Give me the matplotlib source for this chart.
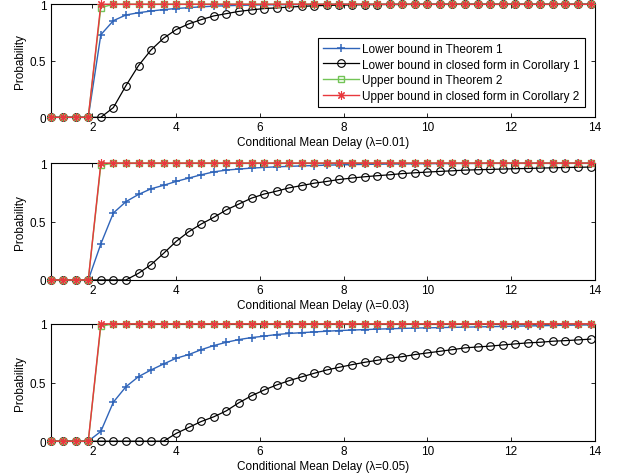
import numpy as np
import matplotlib.pyplot as plt

plt.rcParams['font.family'] = ['Liberation Sans', 'DejaVu Sans']

# delay grid (1:0.3:14)
x = [1.0, 1.3, 1.6, 1.9, 2.2, 2.5, 2.8, 3.1, 3.4, 3.7, 4.0, 4.3, 4.6, 4.9, 5.2,
     5.5, 5.8, 6.1, 6.4, 6.7, 7.0, 7.3, 7.6, 7.9, 8.2, 8.5, 8.8, 9.1, 9.4, 9.7,
     10.0, 10.3, 10.6, 10.9, 11.2, 11.5, 11.8, 12.1, 12.4, 12.7, 13.0, 13.3, 13.6, 13.9]

lambdas = ['0.01', '0.03', '0.05']

# Lower bound in Theorem 1
lb_thm1 = [
    [0, 0, 0, 0, 0.73, 0.855, 0.905, 0.925, 0.94, 0.953, 0.962, 0.97, 0.977, 0.983, 0.987,
     0.99, 0.993, 0.995, 0.996, 0.997, 0.998, 0.998, 0.999, 1, 1, 1, 1, 1, 1, 1,
     1, 1, 1, 1, 1, 1, 1, 1, 1, 1, 1, 1, 1, 1],
    [0, 0, 0, 0, 0.308, 0.573, 0.67, 0.732, 0.78, 0.81, 0.843, 0.872, 0.90, 0.925, 0.94,
     0.949, 0.957, 0.963, 0.968, 0.972, 0.976, 0.979, 0.982, 0.985, 0.987, 0.989, 0.99, 0.992, 0.993, 0.994,
     0.995, 0.996, 0.996, 0.997, 0.997, 0.998, 0.998, 0.998, 0.999, 0.999, 0.999, 0.999, 1, 1],
    [0, 0, 0, 0, 0.083, 0.333, 0.464, 0.55, 0.607, 0.658, 0.707, 0.738, 0.78, 0.815, 0.843,
     0.866, 0.883, 0.895, 0.909, 0.918, 0.925, 0.931, 0.937, 0.943, 0.947, 0.951, 0.955, 0.958, 0.961, 0.964,
     0.966, 0.968, 0.97, 0.972, 0.974, 0.976, 0.978, 0.98, 0.982, 0.984, 0.986, 0.988, 0.99, 0.991],
]

# Lower bound in closed form in Corollary 1
lb_cor1 = [
    [0, 0, 0, 0, 0, 0.086, 0.28, 0.457, 0.596, 0.70, 0.776, 0.826, 0.864, 0.897, 0.917,
     0.937, 0.95, 0.962, 0.968, 0.975, 0.981, 0.986, 0.99, 0.992, 0.994, 0.996, 0.997, 0.998, 0.998, 0.999,
     1, 1, 1, 1, 1, 1, 1, 1, 1, 1, 1, 1, 1, 1],
    [0, 0, 0, 0, 0, 0, 0, 0.057, 0.131, 0.228, 0.33, 0.413, 0.479, 0.536, 0.60,
     0.65, 0.70, 0.735, 0.76, 0.788, 0.808, 0.828, 0.843, 0.86, 0.872, 0.883, 0.892, 0.90, 0.91, 0.917,
     0.923, 0.929, 0.934, 0.94, 0.943, 0.946, 0.949, 0.952, 0.954, 0.957, 0.96, 0.962, 0.964, 0.966],
    [0, 0, 0, 0, 0, 0, 0, 0, 0, 0, 0.066, 0.117, 0.168, 0.208, 0.259,
     0.328, 0.387, 0.436, 0.479, 0.516, 0.548, 0.579, 0.607, 0.63, 0.652, 0.672, 0.689, 0.707, 0.72, 0.738,
     0.752, 0.766, 0.78, 0.795, 0.803, 0.81, 0.82, 0.829, 0.838, 0.843, 0.852, 0.857, 0.863, 0.87],
]

# Upper bound in Theorem 2
ub_thm2 = [
    [0, 0, 0, 0, 0.97, 1, 1, 1, 1, 1, 1, 1, 1, 1, 1, 1, 1, 1, 1, 1, 1, 1,
     1, 1, 1, 1, 1, 1, 1, 1, 1, 1, 1, 1, 1, 1, 1, 1, 1, 1, 1, 1, 1, 1],
    [0, 0, 0, 0, 0.98, 1, 1, 1, 1, 1, 1, 1, 1, 1, 1, 1, 1, 1, 1, 1, 1, 1,
     1, 1, 1, 1, 1, 1, 1, 1, 1, 1, 1, 1, 1, 1, 1, 1, 1, 1, 1, 1, 1, 1],
    [0, 0, 0, 0, 0.98, 1, 1, 1, 1, 1, 1, 1, 1, 1, 1, 1, 1, 1, 1, 1, 1, 1,
     1, 1, 1, 1, 1, 1, 1, 1, 1, 1, 1, 1, 1, 1, 1, 1, 1, 1, 1, 1, 1, 1],
]

# Upper bound in closed form in Corollary 2
ub_cor2 = [
    [0, 0, 0, 0, 1, 1, 1, 1, 1, 1, 1, 1, 1, 1, 1, 1, 1, 1, 1, 1, 1, 1,
     1, 1, 1, 1, 1, 1, 1, 1, 1, 1, 1, 1, 1, 1, 1, 1, 1, 1, 1, 1, 1, 1],
    [0, 0, 0, 0, 1, 1, 1, 1, 1, 1, 1, 1, 1, 1, 1, 1, 1, 1, 1, 1, 1, 1,
     1, 1, 1, 1, 1, 1, 1, 1, 1, 1, 1, 1, 1, 1, 1, 1, 1, 1, 1, 1, 1, 1],
    [0, 0, 0, 0, 1, 1, 1, 1, 1, 1, 1, 1, 1, 1, 1, 1, 1, 1, 1, 1, 1, 1,
     1, 1, 1, 1, 1, 1, 1, 1, 1, 1, 1, 1, 1, 1, 1, 1, 1, 1, 1, 1, 1, 1],
]

fig = plt.figure(figsize=(6.17, 4.77), dpi=100)

# axes boxes (left, bottom, width, height) in figure fractions
boxes = [(0.082, 0.752, 0.882, 0.237),
         (0.082, 0.411, 0.882, 0.245),
         (0.082, 0.073, 0.882, 0.246)]

blue = '#2f64b9'
green = '#72c456'
red = '#e8383d'
fs = 8.5

for i, box in enumerate(boxes):
    ax = fig.add_axes(box)
    ax.plot(x, lb_thm1[i], color=blue, lw=1.0, marker='+', ms=6, mew=1.1,
            label='Lower bound in Theorem 1', clip_on=False, zorder=3)
    ax.plot(x, lb_cor1[i], color='black', lw=0.9, marker='o', ms=5.5, mfc='none', mew=0.8,
            label='Lower bound in closed form in Corollary 1', clip_on=False, zorder=3)
    ax.plot(x, ub_thm2[i], color=green, lw=1.0, marker='s', ms=5, mfc='none', mew=1.0,
            label='Upper bound in Theorem 2', clip_on=False, zorder=3)
    # MATLAB-style '*' marker: eight spokes
    ax.plot(x, ub_cor2[i], color=red, lw=1.0, marker=(8, 2, 0), ms=6, mew=0.8,
            label='Upper bound in closed form in Corollary 2', clip_on=False, zorder=3)

    ax.set_xlim(1, 14)
    ax.set_ylim(0, 1)
    ax.set_xticks([2, 4, 6, 8, 10, 12, 14])
    ax.set_yticks([0, 0.5, 1])
    ax.set_yticklabels(['0', '0.5', '1'])
    ax.tick_params(direction='in', top=True, right=True, labelsize=fs, length=3, width=0.6, pad=3)
    for s in ax.spines.values():
        s.set_linewidth(0.8)
    ax.set_ylabel('Probability', fontsize=fs, labelpad=3)
    ax.set_xlabel('Conditional Mean Delay (\u03bb=' + lambdas[i] + ')', fontsize=fs, labelpad=2)

    if i == 0:
        leg = ax.legend(loc='lower right', bbox_to_anchor=(0.982, 0.091), borderaxespad=0,
                        fontsize=fs, handlelength=3.0, handletextpad=0.3, labelspacing=0.3,
                        borderpad=0.45, fancybox=False, framealpha=1, edgecolor='black')
        leg.get_frame().set_linewidth(0.8)
        leg.set_zorder(5)

fig.savefig('out.png', dpi=100)
